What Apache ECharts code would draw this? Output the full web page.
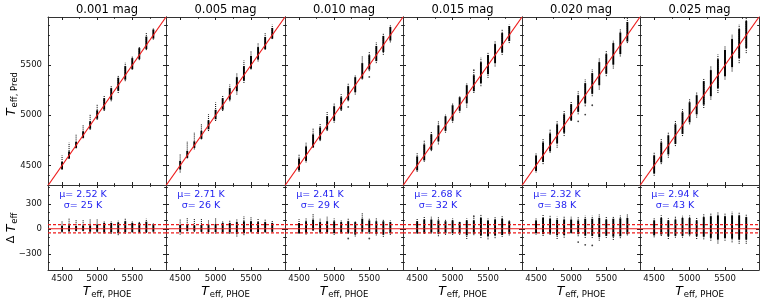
<!DOCTYPE html>
<html><head><meta charset="utf-8">
<script src="https://cdn.jsdelivr.net/npm/echarts@6/dist/echarts.min.js"></script>
<style>html,body{margin:0;padding:0;background:#fff}#c{width:763px;height:303px}</style>
</head><body><div id="c"></div>
<script>
// ---------------- data ----------------
const titles = ['0.001 mag', '0.005 mag', '0.010 mag', '0.015 mag', '0.020 mag', '0.025 mag'];
const muText = ['2.52', '2.71', '2.41', '2.68', '2.32', '2.94'];
const sigmaText = ['25', '26', '29', '32', '38', '43'];
const teffGrid = [4500, 4600, 4700, 4800, 4900, 5000, 5100, 5200, 5300, 5400, 5500, 5600, 5700, 5800];
const xMajorTicks = [4500, 5000, 5500];
const xMinorTicks = [4750, 5250, 5750];
const yTopMajorTicks = [4500, 5000, 5500];
const yTopMinorTicks = [4400, 4600, 4700, 4800, 4900, 5100, 5200, 5300, 5400, 5600, 5700, 5800, 5900];
const yBotMajorTicks = [-300, 0, 300];
const yBotMinorTicks = [-400, -200, -100, 100, 200, 400, 500];
const teffRange = [4300, 5980];      // 1:1 line / x limits
const predRange = [4305, 5980];
const resRange = [-495, 525];
const refLevels = [-50, 50];          // dashed reference lines

// residuals (Pred - PHOE) per column: dense core and dotted tail extents, plus isolated points
const p1CoreLo = [-35, -30, -25, -25, -35, -35, -45, -45, -55, -45, -40, -40, -40, -35];
const p1CoreHi = [35, 40, 35, 40, 40, 50, 70, 70, 75, 90, 70, 70, 85, 55];
const p1TailLo = [-45, -35, -30, -30, -45, -45, -57, -60, -77, -60, -45, -50, -50, -45];
const p1TailHi = [100, 125, 110, 110, 110, 110, 93, 90, 97, 123, 90, 87, 120, 75];
const p1Out = [];

const p2CoreLo = [-40, -25, -25, -35, -40, -40, -45, -45, -60, -55, -35, -45, -40, -35];
const p2CoreHi = [45, 45, 40, 45, 50, 55, 70, 70, 80, 90, 90, 80, 80, 70];
const p2TailLo = [-70, -30, -40, -40, -57, -57, -57, -60, -93, -77, -43, -63, -47, -40];
const p2TailHi = [113, 137, 127, 120, 110, 127, 93, 107, 123, 147, 140, 120, 120, 103];
const p2Out = [];

const p3CoreLo = [-50, -55, -20, -45, -45, -55, -45, -50, -70, -35, -45, -60, -70, -55];
const p3CoreHi = [70, 90, 110, 80, 90, 90, 80, 90, 80, 120, 100, 90, 90, 80];
const p3TailLo = [-63, -70, -23, -57, -57, -73, -57, -60, -93, -43, -60, -80, -97, -73];
const p3TailHi = [113, 130, 177, 120, 143, 127, 110, 123, 97, 190, 130, 127, 120, 103];
const p3Out = [[5200, -117], [5500, -117]];

const p4CoreLo = [-50, -50, -45, -60, -55, -55, -55, -80, -60, -80, -90, -80, -75, -60];
const p4CoreHi = [90, 110, 110, 100, 90, 100, 80, 100, 100, 130, 100, 110, 120, 90];
const p4TailLo = [-63, -63, -57, -90, -73, -73, -73, -123, -77, -110, -127, -113, -97, -80];
const p4TailHi = [123, 147, 143, 143, 110, 127, 93, 123, 140, 173, 123, 137, 153, 103];
const p4Out = [[5300, 150]];

const p5CoreLo = [-55, -65, -60, -80, -75, -50, -65, -80, -85, -100, -85, -95, -90, -65];
const p5CoreHi = [100, 130, 120, 110, 110, 110, 100, 120, 120, 130, 110, 120, 125, 130];
const p5TailLo = [-70, -87, -73, -123, -107, -57, -90, -110, -110, -143, -110, -134, -113, -80];
const p5TailHi = [130, 170, 160, 143, 143, 143, 143, 157, 157, 173, 140, 148, 160, 170];
const p5Out = [[5100, -160], [5200, -193], [5300, -200]];

const p6CoreLo = [-80, -70, -90, -85, -85, -70, -90, -95, -110, -130, -110, -120, -130, -130];
const p6CoreHi = [100, 130, 100, 110, 130, 130, 100, 140, 150, 160, 150, 160, 160, 140];
const p6TailLo = [-103, -87, -123, -107, -107, -90, -123, -127, -143, -177, -143, -163, -180, -180];
const p6TailHi = [130, 163, 127, 143, 160, 160, 130, 173, 190, 207, 190, 203, 203, 170];
const p6Out = [];

const panels = [
  [p1CoreLo, p1CoreHi, p1TailLo, p1TailHi, p1Out],
  [p2CoreLo, p2CoreHi, p2TailLo, p2TailHi, p2Out],
  [p3CoreLo, p3CoreHi, p3TailLo, p3TailHi, p3Out],
  [p4CoreLo, p4CoreHi, p4TailLo, p4TailHi, p4Out],
  [p5CoreLo, p5CoreHi, p5TailLo, p5TailHi, p5Out],
  [p6CoreLo, p6CoreHi, p6TailLo, p6TailHi, p6Out]
];

// ---------------- layout ----------------
const lefts = [48, 166, 285, 403, 522, 640];
const widths = [118, 119, 118, 119, 118, 119];
const topY = 17, topH = 168, botY = 185, botH = 85;
const FONT = 'DejaVu Sans';
const frame = '#333';
const RED = '#ee1c1c';

const grids = [], xAxes = [], yAxes = [], series = [], graphics = [];

function mkAxis(kind, g, pos, range, ticks, len, lineShow, labelShow, fmt) {
  return {
    gridIndex: g, type: 'value', position: pos, min: range[0], max: range[1],
    axisLine: { show: lineShow, onZero: false, lineStyle: { color: frame, width: 1 } },
    axisTick: { show: true, inside: true, length: len, customValues: ticks, lineStyle: { color: '#222', width: 1 } },
    axisLabel: { show: labelShow, customValues: ticks, fontFamily: FONT, fontSize: 8.5, color: '#111',
                 margin: kind === 'x' ? 4 : 6, formatter: fmt || (v => String(v)) },
    splitLine: { show: false }, minorTick: { show: false }, silent: true
  };
}
const fmtMinus = v => (v < 0 ? '\u2212' + Math.abs(v) : String(v));

function segRender(width, color, dash) {
  return function (params, api) {
    const a = api.coord([api.value(0), api.value(1)]);
    const b = api.coord([api.value(0), api.value(2)]);
    return { type: 'line', shape: { x1: a[0], y1: a[1], x2: b[0], y2: b[1] },
             style: { stroke: color, lineWidth: width, lineDash: dash || null } };
  };
}

for (let row = 0; row < 2; row++) {
  for (let p = 0; p < 6; p++) {
    const g = row * 6 + p;
    grids.push({ left: lefts[p], width: widths[p], top: row === 0 ? topY : botY, height: row === 0 ? topH : botH });
    const isBot = row === 1;
    xAxes.push(mkAxis('x', g, 'bottom', teffRange, xMajorTicks, 3, true, isBot));
    xAxes.push(mkAxis('x', g, 'bottom', teffRange, xMinorTicks, 1.8, false, false));
    xAxes.push(mkAxis('x', g, 'top', teffRange, xMajorTicks, 3, true, false));
    xAxes.push(mkAxis('x', g, 'top', teffRange, xMinorTicks, 1.8, false, false));
    const yr = isBot ? resRange : predRange;
    const yMaj = isBot ? yBotMajorTicks : yTopMajorTicks;
    const yMin = isBot ? yBotMinorTicks : yTopMinorTicks;
    yAxes.push(mkAxis('y', g, 'left', yr, yMaj, 3, true, p === 0, isBot ? fmtMinus : null));
    yAxes.push(mkAxis('y', g, 'left', yr, yMin, 1.8, false, false));
    yAxes.push(mkAxis('y', g, 'right', yr, yMaj, 3, true, false));
    yAxes.push(mkAxis('y', g, 'right', yr, yMin, 1.8, false, false));

    const [cLo, cHi, tLo, tHi, out] = panels[p];
    const base = isBot ? (t => 0) : (t => t);
    const axisRef = { xAxisIndex: g * 4, yAxisIndex: g * 4 };
    series.push(Object.assign({
      type: 'custom', silent: true, z: 2, clip: true,
      renderItem: segRender(1.1, '#111', [1, 1]), encode: { x: 0, y: [1, 2] },
      data: teffGrid.map((t, i) => [t, base(t) + tLo[i], base(t) + tHi[i]])
    }, axisRef));
    series.push(Object.assign({
      type: 'custom', silent: true, z: 3, clip: true,
      renderItem: segRender(1.9, '#000'), encode: { x: 0, y: [1, 2] },
      data: teffGrid.map((t, i) => [t, base(t) + cLo[i], base(t) + cHi[i]])
    }, axisRef));
    series.push(Object.assign({
      type: 'scatter', silent: true, z: 3, symbol: 'circle', symbolSize: 1.8,
      itemStyle: { color: '#111' },
      data: out.map(([t, r]) => [t, base(t) + r])
    }, axisRef));
    if (!isBot) {
      series.push(Object.assign({
        type: 'line', silent: true, z: 5, symbol: 'none', clip: true,
        lineStyle: { color: RED, width: 1.2 },
        data: [[teffRange[0], teffRange[0]], [teffRange[1], teffRange[1]]]
      }, axisRef));
    } else {
      series.push(Object.assign({
        type: 'line', silent: true, z: 5, symbol: 'none',
        lineStyle: { color: RED, width: 1.2 },
        data: [[teffRange[0], 0], [teffRange[1], 0]]
      }, axisRef));
      refLevels.forEach(lv => series.push(Object.assign({
        type: 'line', silent: true, z: 5, symbol: 'none',
        lineStyle: { color: RED, width: 1.1, type: [3, 2] },
        data: [[teffRange[0], lv], [teffRange[1], lv]]
      }, axisRef)));
    }
  }
}

// titles, stats, axis names
const subRich = {
  T: { fontFamily: FONT, fontStyle: 'italic', fontSize: 12.5, fill: '#000', verticalAlign: 'top', lineHeight: 14 },
  s: { fontFamily: FONT, fontSize: 8.5, fill: '#000', verticalAlign: 'top', padding: [5, 0, 0, 1], lineHeight: 10 },
  D: { fontFamily: FONT, fontSize: 11, fill: '#000', verticalAlign: 'top', padding: [1, 0, 0, 0], lineHeight: 14 }
};
for (let p = 0; p < 6; p++) {
  const cx = lefts[p] + widths[p] / 2;
  graphics.push({ type: 'text', silent: true, x: cx, y: 10.5,
    style: { text: titles[p], font: '11.5px "DejaVu Sans"', fill: '#000', align: 'center', verticalAlign: 'middle' } });
  graphics.push({ type: 'text', silent: true, x: lefts[p] + 35, y: 189.5,
    style: { text: '\u03bc= ' + muText[p] + ' K\n\u03c3= ' + sigmaText[p] + ' K',
             font: '9.5px "DejaVu Sans"', fill: '#1e1ef0', align: 'center', verticalAlign: 'top', lineHeight: 11 } });
  graphics.push({ type: 'text', silent: true, x: cx, y: 285,
    style: { text: '{T|T}{s|eff, PHOE}', align: 'center', verticalAlign: 'top', rich: subRich } });
}
graphics.push({ type: 'text', silent: true, x: 5, y: 94, rotation: Math.PI / 2,
  style: { text: '{T|T}{s|eff, Pred}', align: 'center', verticalAlign: 'top', rich: subRich } });
graphics.push({ type: 'text', silent: true, x: 5, y: 228, rotation: Math.PI / 2,
  style: { text: '{D|\u0394 }{T|T}{s|eff}', align: 'center', verticalAlign: 'top', rich: subRich } });

const chart = echarts.init(document.getElementById('c'), null, { renderer: 'canvas' });
chart.setOption({
  animation: false, backgroundColor: '#fff',
  grid: grids, xAxis: xAxes, yAxis: yAxes, series: series, graphic: graphics
});
</script></body></html>
